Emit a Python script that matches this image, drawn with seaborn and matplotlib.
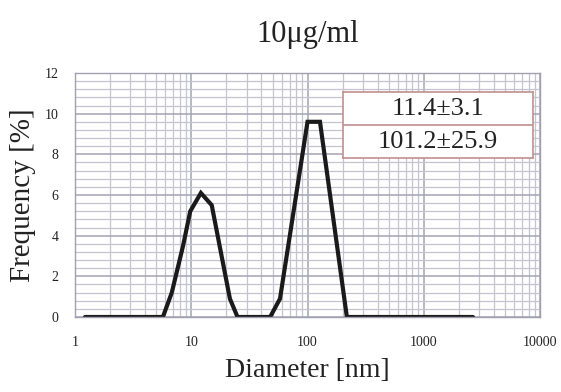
import matplotlib
matplotlib.use("Agg")
import matplotlib.pyplot as plt
import numpy as np
import seaborn as sns
from matplotlib.ticker import LogLocator, MultipleLocator, FixedLocator

# particle size distribution
diameter = [1.22, 5.7, 6.8, 8.5, 9.8, 12.1, 15.0, 21.5, 25.0,
            47.7, 58.0, 100.0, 128.0, 218.0, 2650.0]
frequency = [0.0, 0.0, 1.2, 3.5, 5.2, 6.1, 5.5, 0.9, 0.0,
             0.0, 0.9, 9.6, 9.6, 0.0, 0.0]
peak_labels = ["11.4\u00b13.1", "101.2\u00b125.9"]
x_ticks = [1, 10, 100, 1000, 10000]
x_ticklabels = ["1", "10", "100", "1000", "10000"]
y_ticks = [0, 2, 4, 6, 8, 10, 12]

sns.set_theme(style="white")
plt.rcParams['font.family'] = ['Liberation Serif', 'DejaVu Serif']

fig = plt.figure(figsize=(5.61, 3.92), dpi=100)
ax = fig.add_axes([0.1337, 0.1913, 0.8289, 0.6225])

sns.lineplot(x=diameter, y=frequency, ax=ax, color="#1a1a1a", linewidth=3.0,
             solid_joinstyle="miter")

ax.set_xscale("log")
ax.set_xlim(1, 10000)
ax.set_ylim(0, 12)

# grid, like graph paper
ax.xaxis.set_major_locator(FixedLocator(x_ticks))
ax.xaxis.set_minor_locator(LogLocator(base=10, subs=np.arange(2, 10)))
ax.yaxis.set_major_locator(FixedLocator(y_ticks))
ax.yaxis.set_minor_locator(MultipleLocator(0.4))
ax.grid(which="major", color="#a4a4b4", linewidth=1.1)
ax.grid(which="minor", color="#c4c4d0", linewidth=0.9)
ax.set_axisbelow(True)
for s in ax.spines.values():
    s.set_color("#a0a0b0")
    s.set_linewidth(1.0)

ax.set_xticks(x_ticks)
ax.set_xticklabels(x_ticklabels)
ax.tick_params(axis="both", which="both", length=0, labelsize=10, colors="#222222")
ax.tick_params(axis="x", pad=14)
ax.tick_params(axis="y", pad=12)
ax.set_xlabel("Diameter [nm]", fontsize=20, color="#222222", labelpad=6)
ax.set_ylabel("Frequency [%]", fontsize=21, color="#222222", labelpad=6)
ax.set_title("10\u03bcg/ml", fontsize=22, color="#222222", pad=22)

# the two-row box with mean sizes
box = ax.inset_axes([0.577, 0.651, 0.408, 0.27])
box.set_xlim(0, 1)
box.set_ylim(0, 2)
box.set_facecolor("white")
box.set_xticks([])
box.set_yticks([])
for s in box.spines.values():
    s.set_color("#c09090")
    s.set_linewidth(1.2)
box.axhline(1, color="#c09090", linewidth=1.2)
for i, lab in enumerate(peak_labels):
    box.text(0.5, 1.5 - i, lab, ha="center", va="center", fontsize=19, color="#222222")

fig.savefig("out.png", dpi=100)
